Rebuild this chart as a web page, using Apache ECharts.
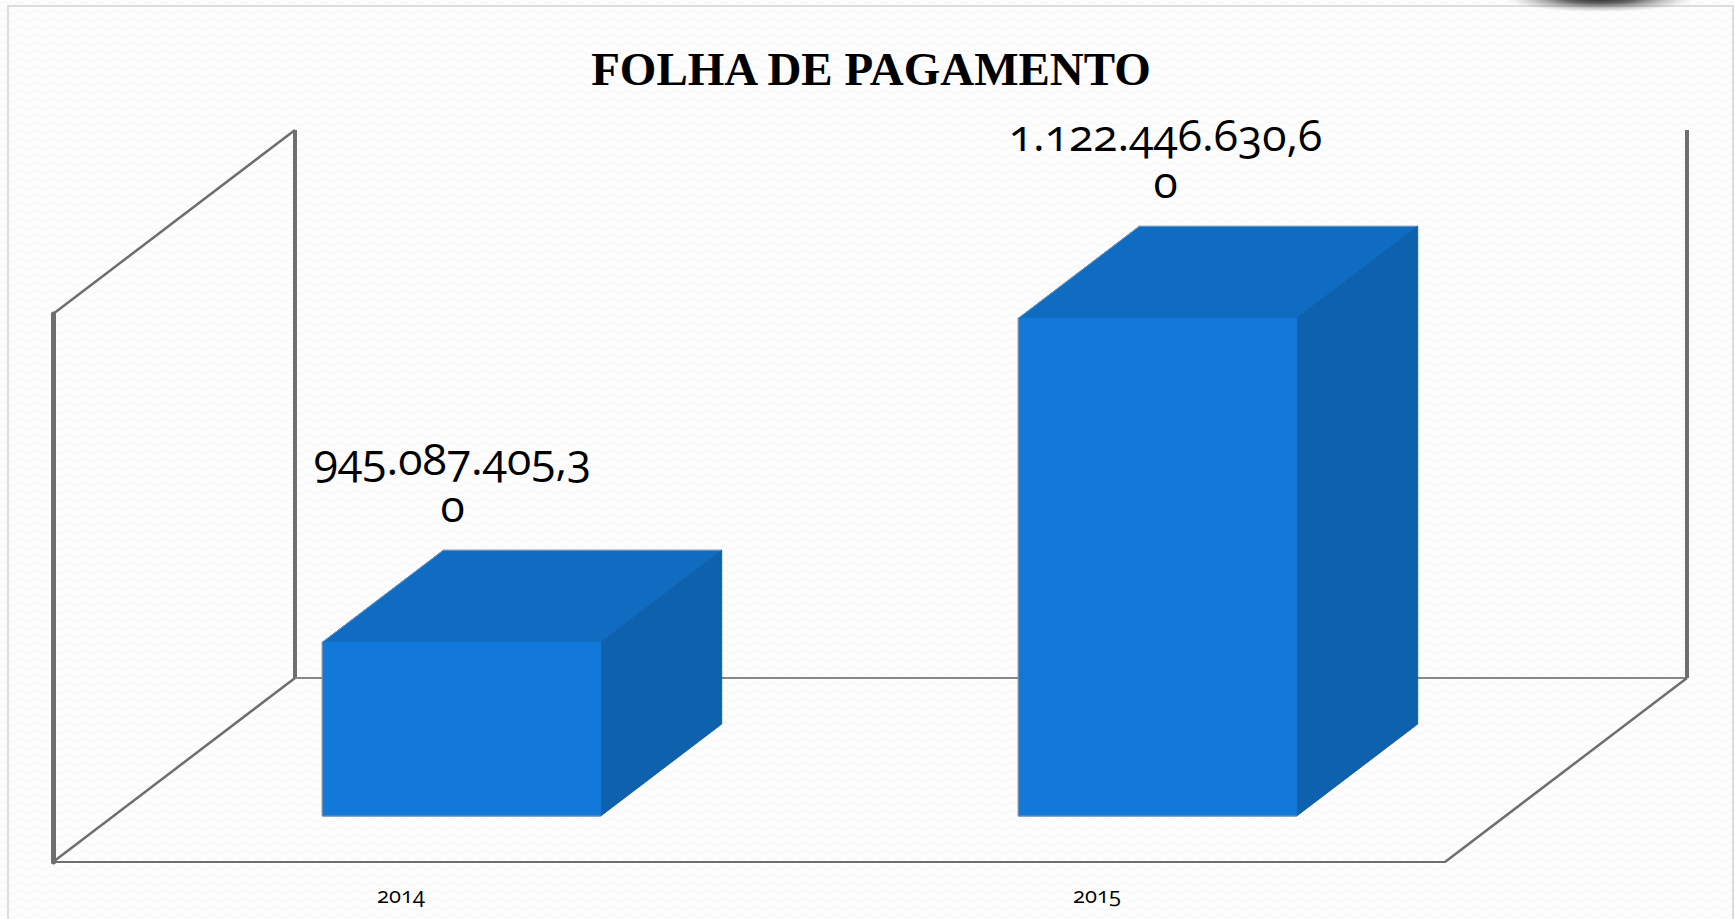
<!DOCTYPE html>
<html><head><meta charset="utf-8">
<script src="https://cdn.jsdelivr.net/npm/echarts@6/dist/echarts.min.js"></script>
<style>
html,body{margin:0;padding:0;width:1735px;height:919px;overflow:hidden;background-color:#fdfdfd;
background-image:url("data:image/svg+xml;utf8,<svg xmlns='http://www.w3.org/2000/svg' width='16' height='8'><path d='M0 4 Q4 0 8 4 T16 4' fill='none' stroke='%23f7f7f7' stroke-width='1.4'/></svg>");}
#c{width:1735px;height:919px;}
#c svg text, #c svg tspan{font-feature-settings:"onum" 1 !important;font-variant-numeric:oldstyle-nums !important;}
</style></head><body><div id="c"></div>
<script>
const categories = ['2014', '2015'];
const values = [945087405.30, 1122446630.60];
const valueLabels = ['945.087.405,3\n0', '1.122.446.630,6\n0'];
const labelShift = [-9, 8];

const WALL_DX = 242, WALL_DY = 184;
const FRONT = 0.25, BACK = 0.75;
const AXIS_MIN = 850000000, AXIS_MAX = 1150000000;
const LINE = '#6e6e6e';

const chart = echarts.init(document.getElementById('c'), null, {renderer: 'svg'});

function wall(params) {
  const g = params.coordSys, L = g.x, T = g.y, R = g.x + g.width, B = g.y + g.height;
  const seg = (x1, y1, x2, y2, w, c) => ({type: 'line', shape: {x1, y1, x2, y2}, style: {stroke: c || LINE, lineWidth: w}});
  return {type: 'group', children: [
    seg(L, T, L + WALL_DX, T - WALL_DY, 2.5),
    seg(L, B, L + WALL_DX, B - WALL_DY, 2.5),
    seg(L + WALL_DX, T - WALL_DY, L + WALL_DX, B - WALL_DY, 4),
    seg(L + WALL_DX, B - WALL_DY, R + WALL_DX, B - WALL_DY, 2.2, '#888888'),
    seg(R + WALL_DX, T - WALL_DY, R + WALL_DX, B - WALL_DY, 4),
    seg(R, B, R + WALL_DX, B - WALL_DY, 2.5)
  ]};
}

function bar(params, api) {
  const i = api.value(0);
  const top = api.coord([i, api.value(1)]);
  const base = api.coord([i, AXIS_MIN]);
  const w = api.size([1, 0])[0] * 0.4;
  const fx = WALL_DX * FRONT, fy = WALL_DY * FRONT;
  const dx = WALL_DX * (BACK - FRONT), dy = WALL_DY * (BACK - FRONT);
  const x0 = top[0] - w / 2 + fx, x1 = x0 + w, yt = top[1] - fy, yb = base[1] - fy;
  const poly = (points, fill, stroke) => ({type: 'polygon', shape: {points}, style: {fill, stroke: stroke || fill, lineWidth: 1}});
  return {type: 'group', children: [
    poly([[x0, yt], [x0 + dx, yt - dy], [x1 + dx, yt - dy], [x1, yt]], '#106CC0'),
    {type: 'polyline', shape: {points: [[x0, yt], [x0 + dx, yt - dy], [x1 + dx, yt - dy]]}, style: {fill: 'none', stroke: '#7f9ab5', lineWidth: 1}},
    poly([[x1, yt], [x1 + dx, yt - dy], [x1 + dx, yb - dy], [x1, yb]], '#0D61AD'),
    poly([[x0, yt], [x1, yt], [x1, yb], [x0, yb]], '#1279DB'),
    {type: 'polyline', shape: {points: [[x0, yt], [x0, yb], [x1, yb]]}, style: {fill: 'none', stroke: '#7f94a8', lineWidth: 1}},
    {type: 'text', style: {
      text: valueLabels[i], x: x0 + w / 2 + labelShift[i], y: yt - dy - 22,
      align: 'center', verticalAlign: 'bottom',
      font: '44.5px "Open Sans"', lineHeight: 47, fill: '#000'
    }}
  ]};
}

chart.setOption({
  animation: false,
  backgroundColor: 'transparent',
  title: {text: 'FOLHA DE PAGAMENTO', left: 866, top: 40, textAlign: 'center',
    textStyle: {fontFamily: 'Liberation Serif', fontWeight: 'bold', fontSize: 47, color: '#000'}},
  grid: {left: 53, right: 290, top: 314, bottom: 57},
  xAxis: {type: 'category', data: categories,
    axisLine: {lineStyle: {color: LINE, width: 2}}, axisTick: {show: false},
    axisLabel: {margin: 21, fontFamily: 'Open Sans', fontSize: 22, color: '#000'}},
  yAxis: {type: 'value', min: AXIS_MIN, max: AXIS_MAX, interval: 50000000,
    axisLine: {show: true, lineStyle: {color: LINE, width: 5}}, axisTick: {show: false},
    axisLabel: {show: false}, splitLine: {show: false}},
  graphic: [
    {type: 'rect', silent: true, z: -1, shape: {x: 8, y: 6, width: 1725, height: 930}, style: {fill: 'none', stroke: '#dddddd', lineWidth: 2}},
    {type: 'ellipse', silent: true, z: -1, shape: {cx: 1600, cy: -2, rx: 95, ry: 14},
      style: {fill: {type: 'radial', x: .5, y: .5, r: .5, colorStops: [{offset: 0, color: '#222'}, {offset: .4, color: 'rgba(50,50,50,.75)'}, {offset: 1, color: 'rgba(140,140,140,0)'}]}}}
  ],
  series: [
    {type: 'custom', clip: false, silent: true, renderItem: wall, data: [[0, AXIS_MIN]], z: 1},
    {type: 'custom', clip: false, silent: true, renderItem: bar, z: 2,
      data: values.map((v, i) => [i, v])}
  ]
});
</script></body></html>
